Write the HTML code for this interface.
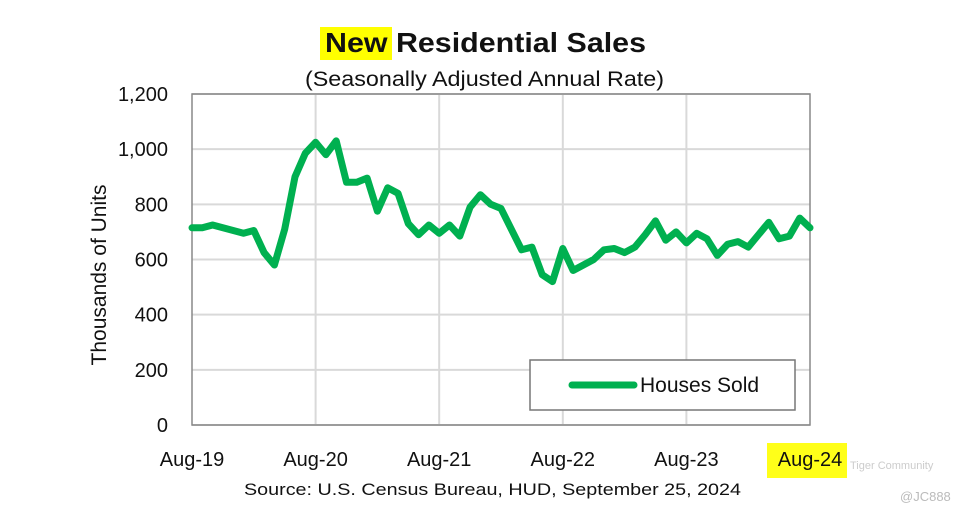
<!DOCTYPE html>
<html><head><meta charset="utf-8"><style>
body{margin:0;background:#fff;}
svg{display:block;font-family:"Liberation Sans",sans-serif;}
</style></head><body>
<svg id="chart" width="963" height="518">
<rect x="320" y="27" width="72" height="33" fill="#ffff00"/>
<text x="325" y="52" textLength="321" lengthAdjust="spacingAndGlyphs" font-size="28" font-weight="bold" fill="#111">New Residential Sales</text>
<text x="305" y="86" textLength="359" lengthAdjust="spacingAndGlyphs" font-size="21" fill="#111">(Seasonally Adjusted Annual Rate)</text>
<g id="grid"></g>
<rect x="192" y="94" width="618" height="331" fill="none" stroke="#888" stroke-width="1.5"/>
<g id="yticks"></g><g id="xticks"></g>
<text transform="translate(106,275) rotate(-90)" text-anchor="middle" font-size="21" fill="#111">Thousands of Units</text>
<path id="line" fill="none" stroke="#00b050" stroke-width="7" stroke-linejoin="round" stroke-linecap="round"/>
<rect x="767" y="443" width="80" height="35" fill="#ffff00" opacity="0.9"/>
<g id="xlabels"></g>
<g>
<rect x="530" y="360" width="265" height="50" fill="#fff" stroke="#777" stroke-width="1.5"/>
<line x1="572" y1="385" x2="634" y2="385" stroke="#00b050" stroke-width="7" stroke-linecap="round"/>
<text x="640" y="392" font-size="21" fill="#111">Houses Sold</text>
</g>
<text x="244" y="495" textLength="497" lengthAdjust="spacingAndGlyphs" font-size="17" fill="#111">Source:  U.S. Census Bureau, HUD, September 25, 2024</text>
<text x="850" y="469" font-size="11" fill="#ccc">Tiger Community</text>
<text x="900" y="501" font-size="13" fill="#bbb">@JC888</text>
</svg>
<script>
const yTicks=[0,200,400,600,800,1000,1200];
const yTickLabels=["0","200","400","600","800","1,000","1,200"];
const xTickLabels=["Aug-19","Aug-20","Aug-21","Aug-22","Aug-23","Aug-24"];
const xTickMonths=[0,12,24,36,48,60];
const housesSold=[715,715,725,715,705,695,705,625,580,710,900,985,1025,980,1030,880,880,895,775,860,840,730,690,725,695,725,685,790,835,800,785,710,635,645,545,520,640,560,580,600,635,640,625,645,690,740,670,700,660,695,675,615,655,665,645,690,735,675,685,750,715];
const X0=192,X1=810,Y0=425,Y1=94;
const xs=i=>X0+(X1-X0)*i/60;
const ys=v=>Y0-(Y0-Y1)*v/1200;
const NS="http://www.w3.org/2000/svg";
const grid=document.getElementById('grid'),yt=document.getElementById('yticks'),xl=document.getElementById('xlabels');
yTicks.forEach((v,i)=>{
 const l=document.createElementNS(NS,'line');
 l.setAttribute('x1',X0);l.setAttribute('x2',X1);l.setAttribute('y1',ys(v));l.setAttribute('y2',ys(v));
 l.setAttribute('stroke','#d9d9d9');l.setAttribute('stroke-width','2');
 
 
 grid.appendChild(l);
 const t=document.createElementNS(NS,'text');
 t.setAttribute('x',168);t.setAttribute('y',ys(v)+7);t.setAttribute('text-anchor','end');t.setAttribute('font-size','20');t.setAttribute('fill','#111');
 t.textContent=yTickLabels[i];
 
 
 yt.appendChild(t);
});
xTickMonths.forEach((m,i)=>{
 if(m>0&&m<60){
 const l=document.createElementNS(NS,'line');
 l.setAttribute('x1',xs(m));l.setAttribute('x2',xs(m));l.setAttribute('y1',Y1);l.setAttribute('y2',Y0);
 l.setAttribute('stroke','#d9d9d9');l.setAttribute('stroke-width','2');
 
 
 grid.appendChild(l);}
 const t=document.createElementNS(NS,'text');
 t.setAttribute('x',xs(m));t.setAttribute('y',466);t.setAttribute('text-anchor','middle');t.setAttribute('font-size','20');t.setAttribute('fill','#111');
 t.textContent=xTickLabels[i];
 
 
 xl.appendChild(t);
});
document.getElementById('line').setAttribute('d',housesSold.map((v,i)=>(i?'L':'M')+xs(i).toFixed(1)+','+ys(v).toFixed(1)).join(''));
</script>
</body></html>
